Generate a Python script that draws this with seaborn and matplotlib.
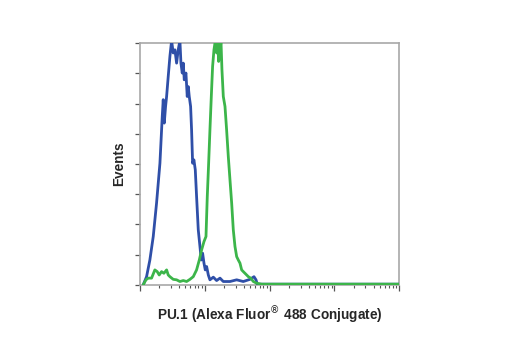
import numpy as np
import pandas as pd
import matplotlib
matplotlib.use("Agg")
import matplotlib.pyplot as plt
import seaborn as sns
from matplotlib.ticker import LogLocator, NullFormatter, MultipleLocator

# log10 fluorescence intensity (decades) and relative events (%)
blue_log = [0.051, 0.103, 0.154, 0.206, 0.257, 0.309, 0.345, 0.36, 0.376, 0.396, 0.412, 0.437, 0.463, 0.489,
            0.514, 0.54, 0.566, 0.591, 0.617, 0.633, 0.653, 0.669, 0.684, 0.71, 0.73, 0.746, 0.761, 0.782,
            0.797, 0.813, 0.833, 0.854, 0.874, 0.9, 0.926, 0.946, 0.967, 0.988, 1.008, 1.029, 1.055, 1.08,
            1.132, 1.183, 1.235, 1.286, 1.389, 1.492, 1.594, 1.697, 1.759, 1.79, 1.81, 2.0, 4.0]
blue_events = [0, 3.4, 10.3, 20, 33.8, 50.3, 69.7, 76.6, 66.9, 73.8, 77.9, 86.2, 94.5, 101,
               95.9, 97.2, 91.7, 97.2, 101, 91.7, 87.6, 91.7, 84.8, 87.6, 77.9, 82, 77.9, 73.8,
               64.1, 50.3, 51.7, 47.6, 36.6, 22.8, 15.9, 10.3, 13.1, 9, 6.2, 7.6, 4.1, 2.1,
               3.2, 1.8, 2.8, 1.4, 1.4, 2.1, 1.4, 2.3, 3.4, 2.1, 0.3, 0.3, 0.3]

green_log = [0.051, 0.093, 0.129, 0.18, 0.231, 0.267, 0.298, 0.334, 0.37, 0.412, 0.437, 0.463, 0.514, 0.566,
             0.617, 0.669, 0.72, 0.772, 0.823, 0.874, 0.916, 0.952, 0.988, 1.019, 1.039, 1.06, 1.08, 1.101,
             1.121, 1.142, 1.163, 1.183, 1.199, 1.214, 1.235, 1.25, 1.265, 1.286, 1.312, 1.337, 1.363,
             1.389, 1.415, 1.44, 1.466, 1.492, 1.517, 1.543, 1.569, 1.594, 1.62, 1.646, 1.672, 1.708,
             1.749, 1.8, 1.878, 2.006, 4.0]
green_events = [0, 2.1, 2.8, 2.8, 6.2, 5.5, 4.1, 5.5, 4.8, 6.2, 4.1, 3.4, 2.3, 2.1,
                1.4, 1.8, 1.4, 2.3, 3.4, 6.2, 10.3, 14.5, 17.9, 20, 36.6, 50.3, 64.1, 77.9,
                90.3, 97.2, 101, 95.9, 101, 92.4, 95.9, 101, 89, 77.9, 73.8, 64.1, 53.1,
                43.4, 33.8, 22.8, 15.9, 11.7, 10.3, 9, 6.2, 5.5, 4.8, 4.1, 3.4, 2.8,
                1.4, 0.7, 0.3, 0.3, 0.3]

df = pd.concat([
    pd.DataFrame({"intensity": np.power(10.0, blue_log), "events": blue_events, "sample": "control"}),
    pd.DataFrame({"intensity": np.power(10.0, green_log), "events": green_events, "sample": "PU.1"}),
])

sns.set_style("white")
plt.rcParams['font.family'] = ['Liberation Sans Narrow', 'Liberation Sans', 'DejaVu Sans']

fig = plt.figure(figsize=(5.2, 3.5), dpi=100)
ax = fig.add_axes([0.269, 0.186, 0.499, 0.691])

sns.lineplot(data=df, x="intensity", y="events", hue="sample", sort=False,
             palette={"control": "#2f4fa8", "PU.1": "#3cb54a"},
             linewidth=2.0, legend=False, ax=ax, estimator=None, zorder=3)

ax.set_xscale("log")
ax.set_xlim(1, 1e4)
ax.set_ylim(0, 100)
ax.xaxis.set_major_locator(LogLocator(base=10, numticks=10))
ax.xaxis.set_minor_locator(LogLocator(base=10, subs=np.arange(2, 10), numticks=50))
ax.xaxis.set_major_formatter(NullFormatter())
ax.xaxis.set_minor_formatter(NullFormatter())
ax.yaxis.set_major_locator(MultipleLocator(12.5))
ax.yaxis.set_major_formatter(NullFormatter())

for s in ax.spines.values():
    s.set_color("#a8a8a8")
    s.set_linewidth(1.2)
    s.set_visible(True)

ax.tick_params(axis="x", which="major", direction="out", length=4, width=0.9, color="#555555", bottom=True)
ax.tick_params(axis="x", which="minor", direction="out", length=2.5, width=0.8, color="#555555", bottom=True)
ax.tick_params(axis="y", which="major", direction="out", length=3.5, width=0.9, color="#555555", left=True)

ax.set_xlabel("PU.1 (Alexa Fluor$^{\u00ae}$ 488 Conjugate)", fontsize=9.8, fontweight="bold", labelpad=7)
ax.set_ylabel("Events", fontsize=9.8, fontweight="bold", labelpad=3)

fig.savefig("out.png", dpi=100, facecolor="white")
